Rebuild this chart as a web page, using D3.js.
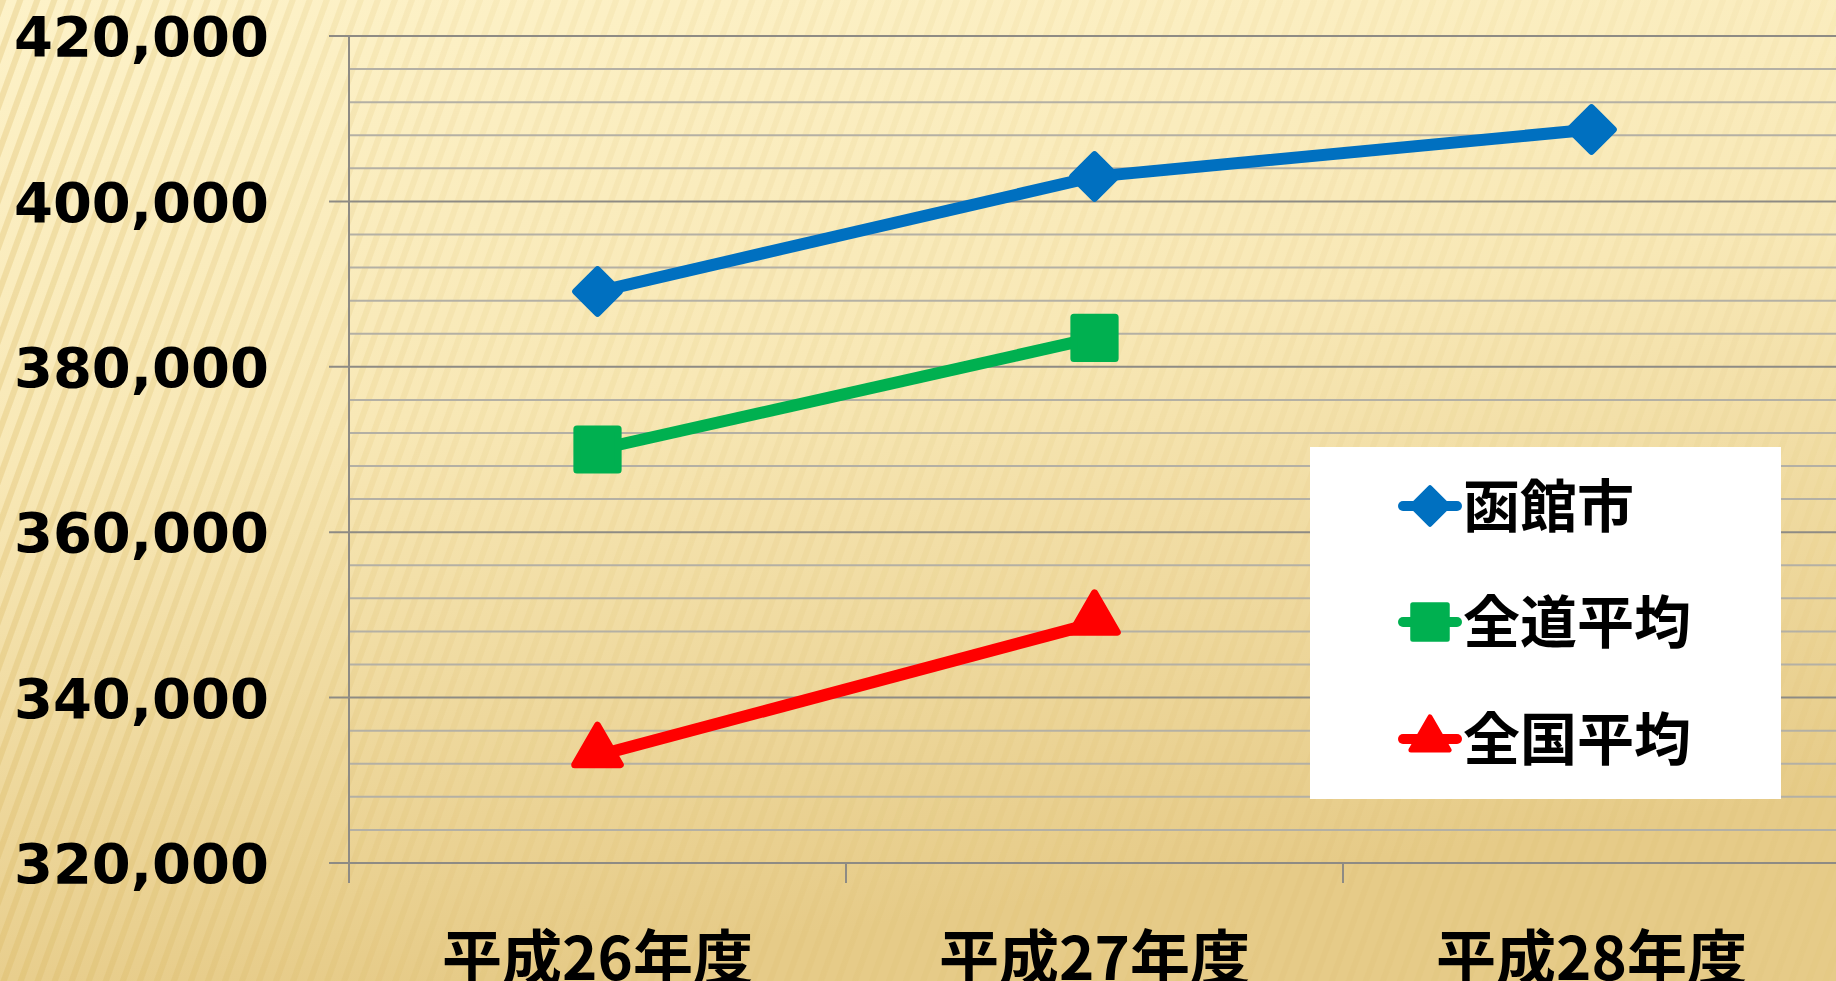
<!DOCTYPE html>
<html>
<head>
<meta charset="utf-8">
<script src="https://cdn.jsdelivr.net/npm/d3@7"></script>
<style>
  html, body { margin: 0; padding: 0; overflow: hidden; }
  svg { display: block; }
</style>
</head>
<body>
<svg id="chart"></svg>
<script>
// Chart data
const categories = ["平成26年度", "平成27年度", "平成28年度"];
const seriesNames = ["函館市", "全道平均", "全国平均"];
const hakodate = [389100, 403000, 408700];
const zendo = [370000, 383500, null];
const zenkoku = [333000, 349000, null];
const yTicks = [320000, 340000, 360000, 380000, 400000, 420000];

const width = 1836;
const height = 981;

const svg = d3.select("#chart")
    .attr("width", width)
    .attr("height", height);

const defs = svg.append("defs");

// Background gradient
const bg = defs.append("linearGradient")
    .attr("id", "bg")
    .attr("x1", "0").attr("y1", "0")
    .attr("x2", "0.25").attr("y2", "1");
bg.append("stop").attr("offset", "0%").attr("stop-color", "#fdf2c8");
bg.append("stop").attr("offset", "45%").attr("stop-color", "#f8e8b6");
bg.append("stop").attr("offset", "100%").attr("stop-color", "#e6cb88");

// Diagonal stripes
const stripes = defs.append("pattern")
    .attr("id", "stripes")
    .attr("width", 16)
    .attr("height", 16)
    .attr("patternUnits", "userSpaceOnUse")
    .attr("patternTransform", "rotate(20)");
stripes.append("rect")
    .attr("width", 6).attr("height", 16)
    .attr("fill", "#d6b45a");

const fade = defs.append("linearGradient")
    .attr("id", "fade")
    .attr("x1", "0").attr("y1", "0")
    .attr("x2", "1").attr("y2", "0");
fade.append("stop").attr("offset", "0%").attr("stop-color", "#fff").attr("stop-opacity", 0.28);
fade.append("stop").attr("offset", "25%").attr("stop-color", "#fff").attr("stop-opacity", 0.1);
fade.append("stop").attr("offset", "100%").attr("stop-color", "#fff").attr("stop-opacity", 0.06);

const mask = defs.append("mask").attr("id", "stripeMask");
mask.append("rect").attr("width", width).attr("height", height).attr("fill", "url(#fade)");

svg.append("rect")
    .attr("width", width).attr("height", height)
    .attr("fill", "url(#bg)");
svg.append("rect")
    .attr("width", width).attr("height", height)
    .attr("fill", "url(#stripes)")
    .attr("mask", "url(#stripeMask)");

// Scales
const plotLeft = 349, plotRight = 1840, plotTop = 36, plotBottom = 863;

const x = d3.scaleBand()
    .domain(categories)
    .range([plotLeft, plotRight])
    .padding(0);

const y = d3.scaleLinear()
    .domain([320000, 420000])
    .range([plotBottom, plotTop]);

// Minor gridlines
const minor = d3.range(320000, 420001, 4000).filter(v => v % 20000 !== 0);
svg.append("g")
    .selectAll("line")
    .data(minor)
    .enter().append("line")
    .attr("x1", plotLeft).attr("x2", width)
    .attr("y1", d => y(d)).attr("y2", d => y(d))
    .attr("stroke", "#b4b0a4")
    .attr("stroke-width", 2);

// Major gridlines (with outside tick)
svg.append("g")
    .selectAll("line")
    .data(yTicks)
    .enter().append("line")
    .attr("x1", plotLeft - 20).attr("x2", width)
    .attr("y1", d => y(d)).attr("y2", d => y(d))
    .attr("stroke", "#8e8b84")
    .attr("stroke-width", 2);

// Y axis line
svg.append("line")
    .attr("x1", plotLeft).attr("x2", plotLeft)
    .attr("y1", plotTop).attr("y2", plotBottom)
    .attr("stroke", "#8e8b84")
    .attr("stroke-width", 2);

// X axis ticks at category boundaries
svg.append("g")
    .selectAll("line")
    .data(categories)
    .enter().append("line")
    .attr("x1", d => x(d)).attr("x2", d => x(d))
    .attr("y1", plotBottom).attr("y2", plotBottom + 20)
    .attr("stroke", "#8e8b84")
    .attr("stroke-width", 2);

// Y labels
const fmt = d3.format(",");
svg.append("g")
    .selectAll("text")
    .data(yTicks)
    .enter().append("text")
    .attr("x", 269)
    .attr("y", d => y(d))
    .attr("dy", "0.36em")
    .attr("text-anchor", "end")
    .attr("font-family", "'DejaVu Sans', sans-serif")
    .attr("font-weight", "bold")
    .attr("font-size", 56)
    .attr("fill", "#000")
    .text(d => fmt(d));

// X labels (cut at the bottom edge, as in the original slide)
svg.append("g")
    .selectAll("text")
    .data(categories)
    .enter().append("text")
    .attr("x", d => x(d) + x.bandwidth() / 2)
    .attr("y", 980)
    .attr("text-anchor", "middle")
    .attr("font-family", "'Noto Sans CJK JP', sans-serif")
    .attr("font-weight", "bold")
    .attr("font-size", 60)
    .attr("fill", "#000")
    .text(d => d);

// Series
const diamond = {
    draw(ctx, size) {
        const r = Math.sqrt(size / 2);
        ctx.moveTo(0, -r);
        ctx.lineTo(r, 0);
        ctx.lineTo(0, r);
        ctx.lineTo(-r, 0);
        ctx.closePath();
    }
};

const series = [
    { name: seriesNames[0], values: hakodate, color: "#0070c0", symbol: diamond, size: 950 },
    { name: seriesNames[1], values: zendo, color: "#00b050", symbol: d3.symbolSquare, size: 1700 },
    { name: seriesNames[2], values: zenkoku, color: "#ff0000", symbol: d3.symbolTriangle, size: 900 }
];

const cx = i => x(categories[i]) + x.bandwidth() / 2;

const line = d3.line()
    .defined(d => d.v !== null)
    .x(d => cx(d.i))
    .y(d => y(d.v));

series.forEach(s => {
    const pts = s.values.map((v, i) => ({ v, i }));
    svg.append("path")
        .datum(pts)
        .attr("d", line)
        .attr("fill", "none")
        .attr("stroke", s.color)
        .attr("stroke-width", 12)
        .attr("stroke-linecap", "round");

    svg.append("g")
        .selectAll("path")
        .data(pts.filter(d => d.v !== null))
        .enter().append("path")
        .attr("transform", d => `translate(${cx(d.i)},${y(d.v) + (s.symbol === d3.symbolTriangle ? -4 : 0)})`)
        .attr("d", d3.symbol().type(s.symbol).size(s.size))
        .attr("fill", s.color)
        .attr("stroke", s.color)
        .attr("stroke-width", 7)
        .attr("stroke-linejoin", "round");
});

// Legend
const legend = svg.append("g");
legend.append("rect")
    .attr("x", 1310).attr("y", 447)
    .attr("width", 471).attr("height", 352)
    .attr("fill", "#ffffff");

const legendY = [506, 622, 739];
series.forEach((s, i) => {
    const g = legend.append("g").attr("transform", `translate(1430,${legendY[i]})`);
    g.append("line")
        .attr("x1", -27).attr("x2", 27)
        .attr("stroke", s.color)
        .attr("stroke-width", 10)
        .attr("stroke-linecap", "round");
    g.append("path")
        .attr("d", d3.symbol().type(s.symbol).size(s.size * 0.7))
        .attr("fill", s.color)
        .attr("stroke", s.color)
        .attr("stroke-width", 5)
        .attr("stroke-linejoin", "round");
    g.append("text")
        .attr("x", 33)
        .attr("dy", "0.36em")
        .attr("font-family", "'Noto Sans CJK JP', sans-serif")
        .attr("font-weight", "bold")
        .attr("font-size", 57)
        .attr("fill", "#000")
        .text(s.name);
});
</script>
</body>
</html>
